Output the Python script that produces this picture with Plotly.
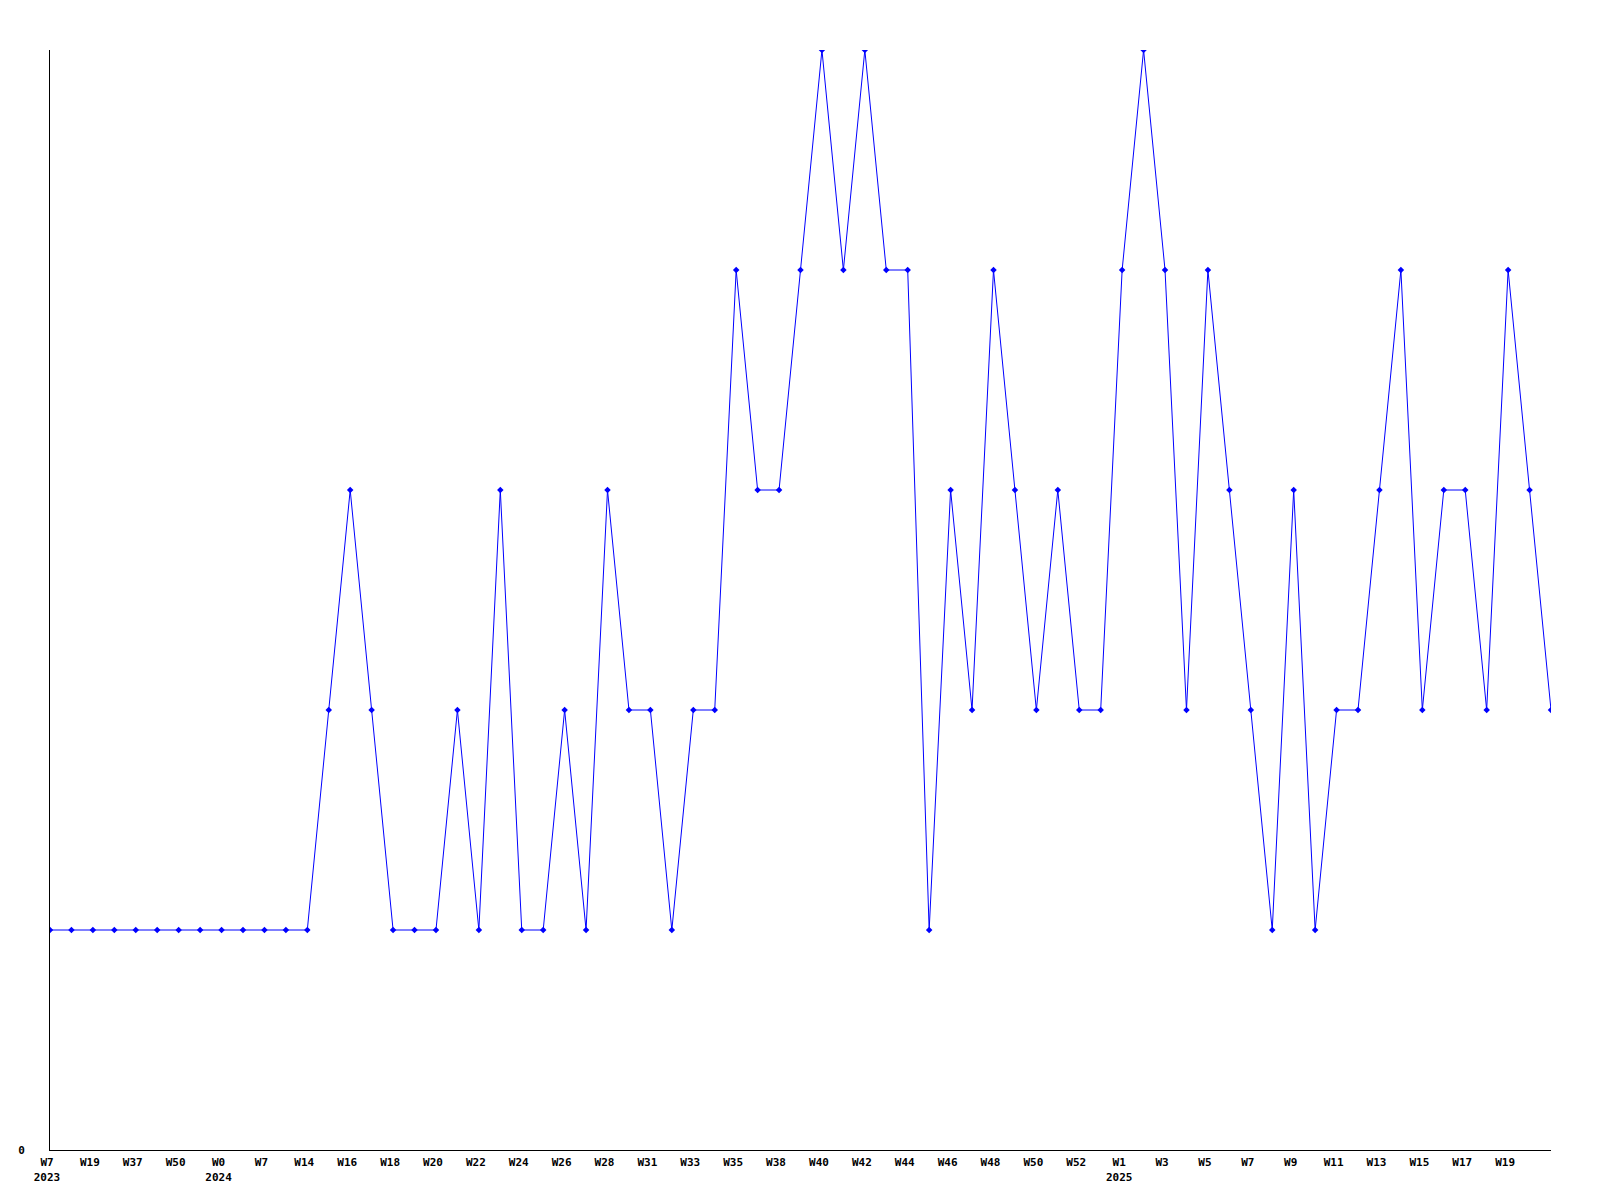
import plotly.graph_objects as go

# Tick labels shown every second point
tick_labels = ["W7<br>2023", "W19", "W37", "W50", "W0<br>2024", "W7", "W14", "W16", "W18",
               "W20", "W22", "W24", "W26", "W28", "W31", "W33", "W35", "W38", "W40",
               "W42", "W44", "W46", "W48", "W50", "W52", "W1<br>2025", "W3", "W5", "W7",
               "W9", "W11", "W13", "W15", "W17", "W19"]

values = [1, 1, 1, 1, 1, 1, 1, 1, 1, 1, 1, 1, 1, 2, 3, 2, 1, 1, 1, 2,
          1, 3, 1, 1, 2, 1, 3, 2, 2, 1, 2, 2, 4, 3, 3, 4, 5, 4, 5, 4,
          4, 1, 3, 2, 4, 3, 2, 3, 2, 2, 4, 5, 4, 2, 4, 3, 2, 1, 3, 1,
          2, 2, 3, 4, 2, 3, 3, 2, 4, 3, 2]

x = list(range(len(values)))
tick_positions = x[::2][:len(tick_labels)]

fig = go.Figure()
fig.add_trace(go.Scatter(
    x=x, y=values, mode="lines+markers",
    line=dict(color="#0000ff", width=1),
    marker=dict(color="#0000ff", symbol="diamond", size=5),
    showlegend=False,
))

fig.update_layout(
    width=1600, height=1200,
    margin=dict(l=42, r=57, t=42, b=58, autoexpand=False),
    paper_bgcolor="white", plot_bgcolor="white",
    font=dict(family="DejaVu Sans Mono", size=11, color="black"),
    xaxis=dict(
        range=[0, 70], showgrid=False, zeroline=False,
        showline=True, linecolor="black", linewidth=1,
        tickmode="array", tickvals=tick_positions,
        ticktext=["<b>" + t.replace("<br>", "</b><br><b>") + "</b>" for t in tick_labels],
        ticks="outside", ticklen=2, tickcolor="rgba(0,0,0,0)",
        ticklabelshift=-3,
        tickfont=dict(family="DejaVu Sans Mono", size=11, color="black"),
    ),
    yaxis=dict(
        range=[0, 5], showgrid=False, zeroline=False,
        showline=True, linecolor="black", linewidth=1,
        tickmode="array", tickvals=[0], ticktext=["<b>0</b>"],
        ticks="outside", ticklen=22, tickcolor="rgba(0,0,0,0)",
        tickfont=dict(family="DejaVu Sans Mono", size=11, color="black"),
    ),
)

fig.write_html("out.html")
